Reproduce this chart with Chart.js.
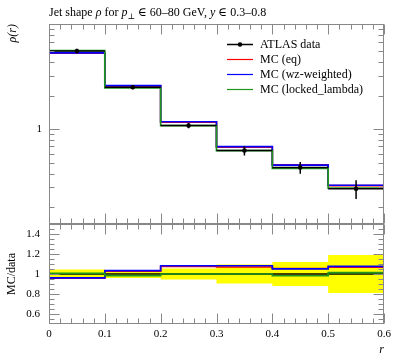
<!DOCTYPE html>
<html><head><meta charset="utf-8">
<script src="https://cdn.jsdelivr.net/npm/chart.js@4.4.0/dist/chart.umd.min.js"></script>
<style>
html,body{margin:0;padding:0;background:#fff;}
#wrap{position:relative;width:397px;height:358px;overflow:hidden;}
canvas{position:absolute;left:0;top:0;}
</style></head><body>
<div id="wrap"><canvas id="main" width="397" height="358"></canvas><canvas id="ratio" width="397" height="358"></canvas></div>
<script>
// ---- data ----
const binEdges = [0, 0.1, 0.2, 0.3, 0.4, 0.5, 0.6];
const atlasData = [5.03, 2.38, 1.077, 0.643, 0.453, 0.292];
const atlasRelErr = [0.045, 0.04, 0.055, 0.095, 0.12, 0.19];
const mcEq = [4.82, 2.45, 1.158, 0.688, 0.478, 0.312];
const mcWz = [4.84, 2.46, 1.166, 0.696, 0.476, 0.314];
const mcLocked = [5.06, 2.34, 1.077, 0.643, 0.445, 0.296];
const xTickValues = [0, 0.1, 0.2, 0.3, 0.4, 0.5, 0.6];
const xTickLabels = ['0', '0.1', '0.2', '0.3', '0.4', '0.5', '0.6'];
const mainTickValues = [1];
const mainTickLabels = ['1'];
const ratioTickValues = [0.6, 0.8, 1, 1.2, 1.4];
const ratioTickLabels = ['0.6', '0.8', '1', '1.2', '1.4'];
const seriesNames = ['ATLAS data', 'MC (eq)', 'MC (wz-weighted)', 'MC (locked_lambda)'];
const seriesColors = ['#000000', '#ff0000', '#0000ff', '#1e951e'];

const SERIF = "'Liberation Serif', 'DejaVu Serif', serif";
Chart.defaults.font.family = SERIF;
Chart.defaults.color = '#000';

function steps(vals) {
  const pts = vals.map((v, i) => ({x: binEdges[i], y: v}));
  pts.push({x: binEdges[vals.length], y: vals[vals.length - 1]});
  return pts;
}
const ratio = (arr) => arr.map((v, i) => v / atlasData[i]);
const centers = atlasData.map((v, i) => ({x: (binEdges[i] + binEdges[i + 1]) / 2, y: v}));

function range(a, b, s) { const r = []; for (let v = a; v <= b + 1e-9; v += s) r.push(+v.toFixed(4)); return r; }
const xMinor = range(0, 0.6, 0.02).filter(v => Math.abs(v * 10 - Math.round(v * 10)) > 1e-6);
const mainMinor = [0.2, 0.3, 0.4, 0.5, 0.6, 0.7, 0.8, 0.9, 2, 3, 4, 5, 6, 7, 8];
const ratioMinor = range(0.55, 1.45, 0.05).filter(v => Math.abs(v * 5 - Math.round(v * 5)) > 1e-6);

function framePlugin(yMajor, yMinor) {
  return {
    id: 'frameTicks',
    afterDraw(chart) {
      const ctx = chart.ctx, a = chart.chartArea, xs = chart.scales.x, ys = chart.scales.y;
      ctx.save();
      ctx.strokeStyle = '#888';
      ctx.lineWidth = 1;
      const L = Math.round(a.left) + 0.5, R = Math.round(a.right) - 0.5;
      const T = Math.round(a.top) + 0.5, B = Math.round(a.bottom) - 0.5;
      ctx.beginPath();
      const tick = (x1, y1, x2, y2) => { ctx.moveTo(x1, y1); ctx.lineTo(x2, y2); };
      xTickValues.forEach(v => { const p = Math.round(xs.getPixelForValue(v)) + 0.5; tick(p, B, p, B - 10); tick(p, T, p, T + 10); });
      xMinor.forEach(v => { const p = Math.round(xs.getPixelForValue(v)) + 0.5; tick(p, B, p, B - 5); tick(p, T, p, T + 5); });
      yMajor.forEach(v => { const p = Math.round(ys.getPixelForValue(v)) + 0.5; tick(L, p, L + 10, p); tick(R, p, R - 10, p); });
      yMinor.forEach(v => { const p = Math.round(ys.getPixelForValue(v)) + 0.5; tick(L, p, L + 5, p); tick(R, p, R - 5, p); });
      ctx.stroke();
      ctx.strokeRect(L, T, R - L, B - T);
      ctx.restore();
    }
  };
}

const errPlugin = {
  id: 'errBars',
  afterDatasetsDraw(chart) {
    const ctx = chart.ctx, xs = chart.scales.x, ys = chart.scales.y;
    ctx.save();
    ctx.strokeStyle = '#000';
    ctx.lineWidth = 1.5;
    ctx.beginPath();
    atlasData.forEach((v, i) => {
      const x0 = xs.getPixelForValue(binEdges[i]), x1 = xs.getPixelForValue(binEdges[i + 1]);
      const xc = xs.getPixelForValue((binEdges[i] + binEdges[i + 1]) / 2);
      const y = ys.getPixelForValue(v);
      ctx.moveTo(x0, y); ctx.lineTo(x1, y);
      ctx.moveTo(xc, ys.getPixelForValue(v * (1 + atlasRelErr[i])));
      ctx.lineTo(xc, ys.getPixelForValue(v * (1 - atlasRelErr[i])));
    });
    ctx.stroke();
    ctx.restore();
  }
};

const decoPlugin = {
  id: 'deco',
  afterDraw(chart) {
    const ctx = chart.ctx;
    ctx.save();
    // title
    const runs = [
      ['Jet shape ', '', 12, 0], ['ρ', 'italic ', 12, 0], [' for ', '', 12, 0],
      ['p', 'italic ', 12, 0], ['⊥', '', 8, 3], [' ∈ 60–80 GeV, ', '', 12, 0],
      ['y', 'italic ', 12, 0], [' ∈ 0.3–0.8', '', 12, 0]
    ];
    let x = 49;
    ctx.fillStyle = '#000';
    ctx.textBaseline = 'alphabetic';
    ctx.textAlign = 'left';
    runs.forEach(([t, st, sz, dy]) => {
      ctx.font = st + sz + 'px ' + SERIF;
      ctx.fillText(t, x, 16 + dy);
      x += ctx.measureText(t).width;
    });
    // legend
    const ly = [44, 59, 74, 89];
    ctx.font = '12px ' + SERIF;
    ctx.textBaseline = 'middle';
    seriesNames.forEach((n, i) => {
      ctx.strokeStyle = seriesColors[i];
      ctx.lineWidth = i === 0 ? 1.5 : 1.2;
      ctx.beginPath(); ctx.moveTo(227, ly[i] + 0.5); ctx.lineTo(253, ly[i] + 0.5); ctx.stroke();
      if (i === 0) { ctx.fillStyle = '#000'; ctx.beginPath(); ctx.arc(240, ly[i] + 0.5, 2.3, 0, Math.PI * 2); ctx.fill(); }
      ctx.fillStyle = '#000';
      ctx.fillText(n, 260, ly[i] + 1);
    });
    ctx.restore();
  }
};

const histDs = (label, vals, color, order) => ({
  label, data: steps(vals), borderColor: color, backgroundColor: color,
  borderWidth: 1.7, stepped: true, pointRadius: 0, fill: false, order
});

new Chart(document.getElementById('main'), {
  type: 'line',
  data: {
    datasets: [
      {label: 'ATLAS data', data: centers, showLine: false, pointRadius: 2.3, pointBackgroundColor: '#000', pointBorderWidth: 0, order: 0},
      histDs('MC (locked_lambda)', mcLocked, seriesColors[3], 1),
      histDs('MC (wz-weighted)', mcWz, seriesColors[2], 2),
      histDs('MC (eq)', mcEq, seriesColors[1], 3)
    ]
  },
  options: {
    responsive: false, animation: false, devicePixelRatio: 1,
    layout: {padding: {top: 24, right: 13, bottom: 134, left: 0}},
    plugins: {legend: {display: false}, tooltip: {enabled: false}, title: {display: false}},
    scales: {
      x: {type: 'linear', min: 0, max: 0.6, display: false},
      y: {
        type: 'logarithmic', min: 0.141, max: 8.78,
        grid: {display: false, drawTicks: false, tickLength: 0}, border: {display: false},
        afterBuildTicks: s => { s.ticks = mainTickValues.map(v => ({value: v})); },
        afterFit: s => { s.width = 49; },
        ticks: {padding: 7, font: {size: 11}, callback: (v, i) => mainTickLabels[i]},
        title: {display: true, text: 'ρ(r)', align: 'end', font: {size: 12, style: 'italic'}, padding: {top: 6, bottom: 0}}
      }
    }
  },
  plugins: [framePlugin(mainTickValues, mainMinor), errPlugin, decoPlugin]
});

const ones = atlasData.map(() => 1);
new Chart(document.getElementById('ratio'), {
  type: 'line',
  data: {
    datasets: [
      histDs('MC (locked_lambda)', ratio(mcLocked), seriesColors[3], 1),
      histDs('MC (wz-weighted)', ratio(mcWz), seriesColors[2], 2),
      histDs('MC (eq)', ratio(mcEq), seriesColors[1], 3),
      histDs('data', ones, '#000', 4),
      {label: 'band+', data: steps(atlasRelErr.map(e => 1 + e)), stepped: true, borderWidth: 0, pointRadius: 0,
       backgroundColor: '#ffff00', borderColor: 'rgba(0,0,0,0)', fill: '+1', order: 5},
      {label: 'band-', data: steps(atlasRelErr.map(e => 1 - e)), stepped: true, borderWidth: 0, pointRadius: 0,
       backgroundColor: '#ffff00', borderColor: 'rgba(0,0,0,0)', fill: false, order: 6}
    ]
  },
  options: {
    responsive: false, animation: false, devicePixelRatio: 1,
    layout: {padding: {top: 224, right: 13, bottom: 0, left: 0}},
    plugins: {legend: {display: false}, tooltip: {enabled: false}, title: {display: false}, filler: {propagate: false}},
    scales: {
      x: {
        type: 'linear', min: 0, max: 0.6,
        grid: {display: false, drawTicks: false, tickLength: 0}, border: {display: false},
        afterBuildTicks: s => { s.ticks = xTickValues.map(v => ({value: v})); },
        afterFit: s => { s.height = 34; },
        ticks: {padding: 4, font: {size: 11}, maxRotation: 0, autoSkip: false, callback: (v, i) => xTickLabels[i]},
        title: {display: true, text: 'r', align: 'end', font: {size: 12, style: 'italic'}, padding: {top: 0, bottom: 1}}
      },
      y: {
        type: 'linear', min: 0.5, max: 1.5,
        grid: {display: false, drawTicks: false, tickLength: 0}, border: {display: false},
        afterBuildTicks: s => { s.ticks = ratioTickValues.map(v => ({value: v})); },
        afterFit: s => { s.width = 49; },
        ticks: {padding: 9, font: {size: 11}, callback: (v, i) => ratioTickLabels[i]},
        title: {display: true, text: 'MC/data', align: 'center', font: {size: 12}, padding: {top: 5, bottom: 0}}
      }
    }
  },
  plugins: [framePlugin(ratioTickValues, ratioMinor)]
});
</script>
</body></html>
